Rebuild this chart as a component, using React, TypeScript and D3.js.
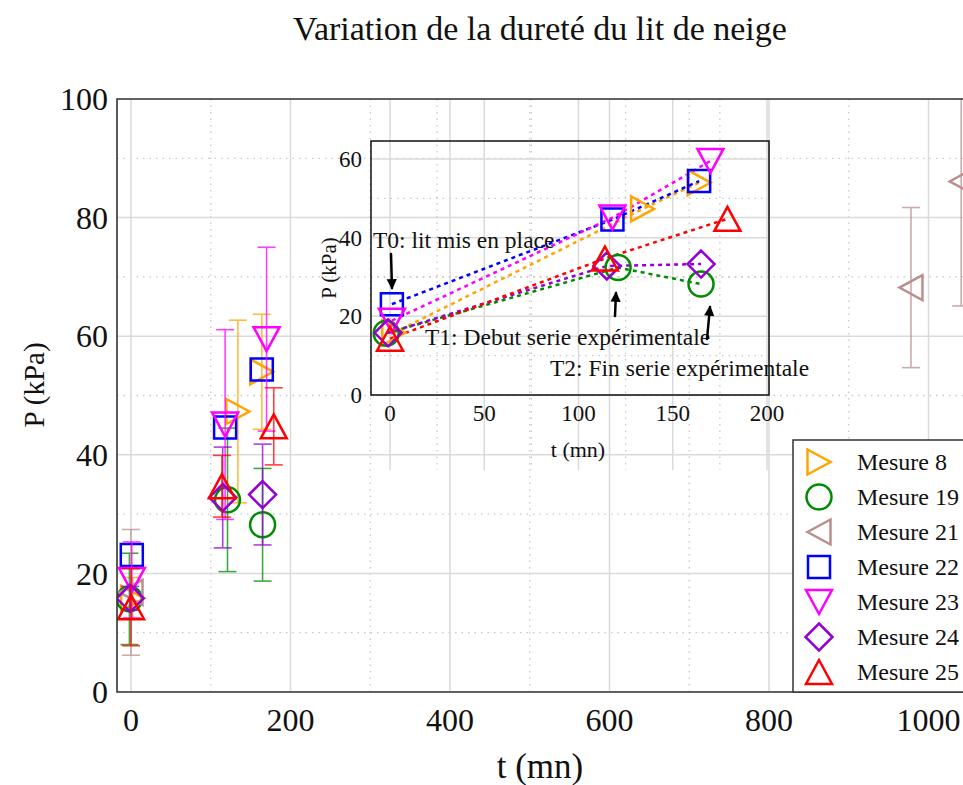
import * as d3 from "d3";

const SERIES = ["Mesure 8", "Mesure 19", "Mesure 21", "Mesure 22", "Mesure 23", "Mesure 24", "Mesure 25"];
const COLORS = ["#FFA500", "#008C00", "#BC8F8F", "#0000FF", "#FF00FF", "#9400D3", "#FF0000"];
const SYMBOLS = ["right", "circle", "left", "square", "down", "diamond", "up"];

// t (mn), P (kPa), demi-barre d'erreur (kPa)
const t8 = [2, 134, 164];
const p8 = [15.8, 47.3, 54];
const e8 = [3.5, 15.4, 9.7];
const t19 = [-2, 121, 165];
const p19 = [15.7, 32.4, 28.2];
const e19 = [7.7, 12.1, 9.5];
const t21 = [0, 978, 1041];
const p21 = [16.8, 68.2, 86.1];
const e21 = [10.6, 13.5, 21];
const t22 = [1, 118, 164];
const p22 = [23.1, 44.6, 54.4];
const e22 = [0, 0, 0];
const t23 = [1, 118, 170];
const p23 = [18.9, 45.1, 59.5];
const e23 = [6.4, 16, 15.5];
const t24 = [-1, 115, 165];
const p24 = [15.8, 32.8, 33.3];
const e24 = [2, 8.5, 8.5];
const t25 = [0, 114, 179];
const p25 = [14.3, 34.7, 44.8];
const e25 = [6.5, 5.2, 6.5];

const T_ALL = [t8, t19, t21, t22, t23, t24, t25];
const P_ALL = [p8, p19, p21, p22, p23, p24, p25];
const E_ALL = [e8, e19, e21, e22, e23, e24, e25];
// séries tracées dans l'encart (sans Mesure 21)
const INSET_SERIES = [0, 1, 3, 4, 5, 6];

const MAIN_X_TICKS = [0, 200, 400, 600, 800, 1000];
const MAIN_Y_TICKS = [0, 20, 40, 60, 80, 100];
const INSET_X_TICKS = [0, 50, 100, 150, 200];
const INSET_Y_TICKS = [0, 20, 40, 60];

const FONT = "'Liberation Serif', 'Times New Roman', serif";

function sym(kind: string): string {
  switch (kind) {
    case "right":
      return "M-11.5,-12.5L11.5,0L-11.5,12.5Z";
    case "left":
      return "M11.5,-12.5L-11.5,0L11.5,12.5Z";
    case "up":
      return "M0,-12L13,12L-13,12Z";
    case "down":
      return "M-13,-12L13,-12L0,12Z";
    case "square":
      return "M-11,-11L11,-11L11,11L-11,11Z";
    case "diamond":
      return "M0,-13.5L13.5,0L0,13.5L-13.5,0Z";
    default:
      return "M12.5,0A12.5,12.5 0 1,1 -12.5,0A12.5,12.5 0 1,1 12.5,0Z";
  }
}

function Marker({ x, y, i }: { x: number; y: number; i: number }) {
  return (
    <path d={sym(SYMBOLS[i])} transform={`translate(${x},${y})`} fill="none" stroke={COLORS[i]} strokeWidth={2.5} strokeLinejoin="miter" />
  );
}

function Arrow({ x1, y1, x2, y2 }: { x1: number; y1: number; x2: number; y2: number }) {
  const a = Math.atan2(y2 - y1, x2 - x1);
  const h = 9;
  const p1 = [x2 - h * Math.cos(a - 0.45), y2 - h * Math.sin(a - 0.45)];
  const p2 = [x2 - h * Math.cos(a + 0.45), y2 - h * Math.sin(a + 0.45)];
  return (
    <g stroke="#000" strokeWidth={2.5} fill="#000" strokeLinecap="round">
      <line x1={x1} y1={y1} x2={x2} y2={y2} />
      <path d={`M${x2},${y2}L${p1[0]},${p1[1]}L${p2[0]},${p2[1]}Z`} strokeWidth={1.5} />
    </g>
  );
}

export default function App() {
  const W = 963;
  const H = 785;
  const left = 117, top = 99, bottom = 692, right = 1000;

  const x = d3.scaleLinear().domain([0, 1000]).range([131, 928.5]);
  const y = d3.scaleLinear().domain([0, 100]).range([692, 99]);

  const xi = d3.scaleLinear().domain([0, 200]).range([390, 767]);
  const yi = d3.scaleLinear().domain([0, 60]).range([395, 159]);
  const iL = 371, iR = 769, iT = 141, iB = 395;

  const gridSolid = "#dadada";
  const gridDot = "#c8c8c8";

  const line = d3
    .line<[number, number]>()
    .x((d) => xi(d[0]))
    .y((d) => yi(d[1]));

  return (
    <svg width={W} height={H} viewBox={`0 0 ${W} ${H}`} style={{ position: "absolute", left: 0, top: 0, background: "#fff" }} fontFamily={FONT}>
      <defs>
        <clipPath id="mainClip">
          <rect x={left} y={top} width={right - left} height={bottom - top} />
        </clipPath>
      </defs>

      <text x={540} y={40} fontSize={34} textAnchor="middle" fill="#111">
        Variation de la dureté du lit de neige
      </text>

      {/* grille principale */}
      <g clipPath="url(#mainClip)">
        {d3.range(100, 1100, 200).map((v) => (
          <line key={"mx" + v} x1={x(v)} x2={x(v)} y1={top} y2={bottom} stroke={gridDot} strokeWidth={1.3} strokeDasharray="1.5,5" />
        ))}
        {d3.range(10, 100, 20).map((v) => (
          <line key={"my" + v} x1={left} x2={right} y1={y(v)} y2={y(v)} stroke={gridDot} strokeWidth={1.3} strokeDasharray="1.5,5" />
        ))}
        {MAIN_X_TICKS.map((v) => (
          <line key={"gx" + v} x1={x(v)} x2={x(v)} y1={top} y2={bottom} stroke={gridSolid} strokeWidth={1.5} />
        ))}
        {MAIN_Y_TICKS.map((v) => (
          <line key={"gy" + v} x1={left} x2={right} y1={y(v)} y2={y(v)} stroke={gridSolid} strokeWidth={1.5} />
        ))}

        {/* grille de l'encart */}
        {d3.range(25, 200, 50).map((v) => (
          <line key={"ix" + v} x1={xi(v)} x2={xi(v)} y1={top} y2={470} stroke={gridDot} strokeWidth={1.3} strokeDasharray="1.5,5" />
        ))}
        {INSET_X_TICKS.map((v) => (
          <line key={"igx" + v} x1={xi(v)} x2={xi(v)} y1={top} y2={470} stroke={gridSolid} strokeWidth={1.5} />
        ))}
        {[10, 30, 50].map((v) => (
          <line key={"iy" + v} x1={iL} x2={iR} y1={yi(v)} y2={yi(v)} stroke={gridDot} strokeWidth={1.3} strokeDasharray="1.5,5" />
        ))}
        {INSET_Y_TICKS.map((v) => (
          <line key={"igy" + v} x1={iL} x2={iR} y1={yi(v)} y2={yi(v)} stroke={gridSolid} strokeWidth={1.5} />
        ))}

        {/* barres d'erreur et marqueurs */}
        {SERIES.map((name, i) => (
          <g key={name}>
            {T_ALL[i].map((t, k) =>
              E_ALL[i][k] > 0 ? (
                <g key={k} stroke={COLORS[i]} strokeWidth={1.6} opacity={0.75}>
                  <line x1={x(t)} x2={x(t)} y1={y(P_ALL[i][k] + E_ALL[i][k])} y2={y(P_ALL[i][k] - E_ALL[i][k])} />
                  <line x1={x(t) - 9} x2={x(t) + 9} y1={y(P_ALL[i][k] + E_ALL[i][k])} y2={y(P_ALL[i][k] + E_ALL[i][k])} />
                  <line x1={x(t) - 9} x2={x(t) + 9} y1={y(P_ALL[i][k] - E_ALL[i][k])} y2={y(P_ALL[i][k] - E_ALL[i][k])} />
                </g>
              ) : null
            )}
            {T_ALL[i].map((t, k) => (
              <Marker key={"m" + k} x={x(t)} y={y(P_ALL[i][k])} i={i} />
            ))}
          </g>
        ))}
      </g>

      {/* cadre principal */}
      <path d={`M${right},${top}H${left}V${bottom}H${right}`} fill="none" stroke="#333" strokeWidth={1.6} />

      {MAIN_Y_TICKS.map((v) => (
        <text key={"ty" + v} x={108} y={y(v)} dy="0.35em" fontSize={32} textAnchor="end" fill="#111">
          {v}
        </text>
      ))}
      {MAIN_X_TICKS.map((v) => (
        <text key={"tx" + v} x={x(v)} y={731} fontSize={32} textAnchor="middle" fill="#111">
          {v}
        </text>
      ))}
      <text x={540} y={778} fontSize={35} textAnchor="middle" fill="#111">
        t (mn)
      </text>
      <text transform="translate(44,385) rotate(-90)" fontSize={29} textAnchor="middle" fill="#111">
        P (kPa)
      </text>

      {/* encart */}
      <rect x={iL} y={iT} width={iR - iL} height={iB - iT} fill="none" stroke="#111" strokeWidth={1.5} />
      {INSET_SERIES.map((i) => (
        <path
          key={"l" + i}
          d={line(T_ALL[i].map((t, k) => [t, P_ALL[i][k]] as [number, number])) || ""}
          fill="none"
          stroke={COLORS[i]}
          strokeWidth={2.5}
          strokeDasharray="4,4"
        />
      ))}
      {INSET_SERIES.map((i) => (
        <g key={"im" + i}>
          {T_ALL[i].map((t, k) => (
            <Marker key={k} x={xi(t)} y={yi(P_ALL[i][k])} i={i} />
          ))}
        </g>
      ))}
      {INSET_Y_TICKS.map((v) => (
        <text key={"ity" + v} x={362} y={yi(v)} dy="0.35em" fontSize={23} textAnchor="end" fill="#111">
          {v}
        </text>
      ))}
      {INSET_X_TICKS.map((v) => (
        <text key={"itx" + v} x={xi(v)} y={421} fontSize={23} textAnchor="middle" fill="#111">
          {v}
        </text>
      ))}
      <text x={578} y={457} fontSize={22} textAnchor="middle" fill="#111">
        t (mn)
      </text>
      <text transform="translate(336,268) rotate(-90)" fontSize={21} textAnchor="middle" fill="#111">
        P (kPa)
      </text>

      <text x={373} y={248} fontSize={23.5} fill="#111">
        T0: lit mis en place
      </text>
      <Arrow x1={391} y1={254} x2={392} y2={288} />
      <text x={425} y={345} fontSize={23.5} fill="#111">
        T1: Debut serie expérimentale
      </text>
      <Arrow x1={615} y1={316} x2={616} y2={293} />
      <text x={550} y={376} fontSize={23.5} fill="#111">
        T2: Fin serie expérimentale
      </text>
      <Arrow x1={707} y1={339} x2={710} y2={307} />

      {/* légende */}
      <rect x={793} y={440} width={200} height={252} fill="#fff" stroke="#333" strokeWidth={1.5} />
      {SERIES.map((name, i) => {
        const ly = 462 + i * 35;
        return (
          <g key={"lg" + name}>
            <Marker x={819} y={ly} i={i} />
            <text x={857} y={ly} dy="0.35em" fontSize={24} fill="#111">
              {name}
            </text>
          </g>
        );
      })}
    </svg>
  );
}
